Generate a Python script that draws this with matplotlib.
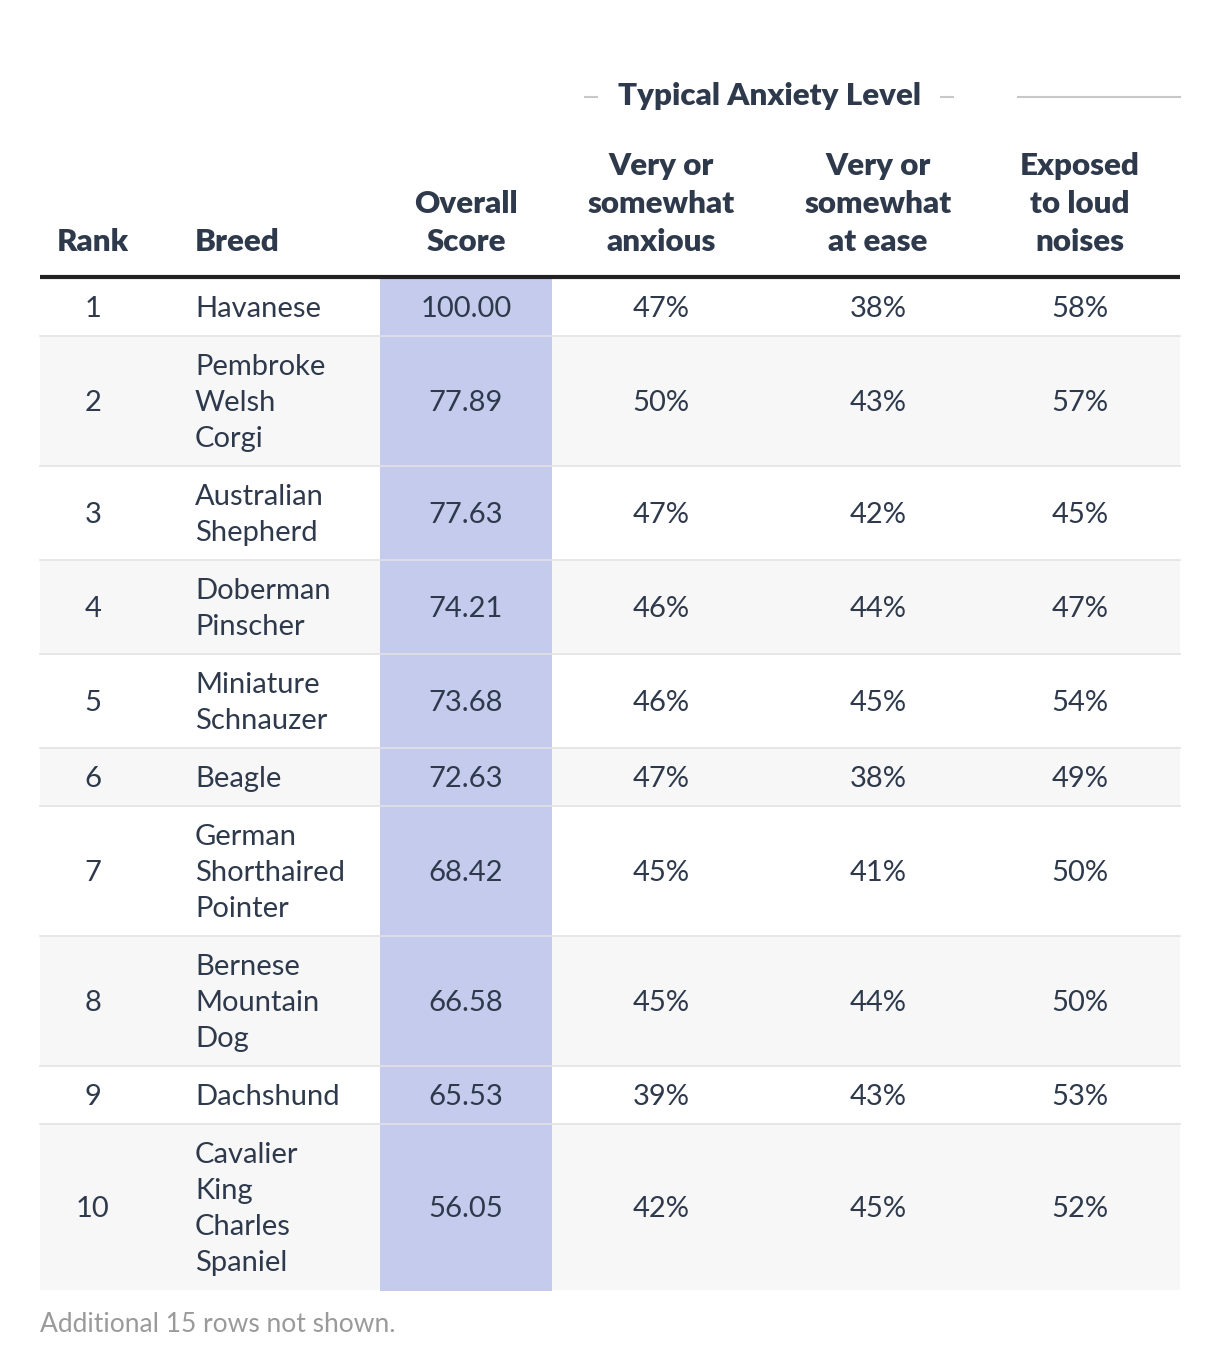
import matplotlib.pyplot as plt
from matplotlib.patches import Rectangle

# Data
ranks = [1, 2, 3, 4, 5, 6, 7, 8, 9, 10]
breeds = ["Havanese", "Pembroke\nWelsh\nCorgi", "Australian\nShepherd",
          "Doberman\nPinscher", "Miniature\nSchnauzer", "Beagle",
          "German\nShorthaired\nPointer", "Bernese\nMountain\nDog",
          "Dachshund", "Cavalier\nKing\nCharles\nSpaniel"]
scores = [100.00, 77.89, 77.63, 74.21, 73.68, 72.63, 68.42, 66.58, 65.53, 56.05]
anxious = [47, 50, 47, 46, 46, 47, 45, 45, 39, 42]
at_ease = [38, 43, 42, 44, 45, 38, 41, 44, 43, 45]
loud = [58, 57, 45, 47, 54, 49, 50, 50, 53, 52]

headers = ["Rank", "Breed", "Overall\nScore", "Very or\nsomewhat\nanxious",
           "Very or\nsomewhat\nat ease", "Exposed\nto loud\nnoises"]
group_title = "Typical Anxiety Level"
footnote = "Additional 15 rows not shown."

# Style
W, H = 1220, 1372
FONT = "Lato"
TEXT = "#2e3a4c"
HILITE = "#c5cbec"
STRIPE = "#f7f7f7"
SEP = "#e3e3e3"
LINE_H = 36
BODY = 21
HEAD = 22.5

fig = plt.figure(figsize=(W / 100, H / 100), dpi=100)
ax = fig.add_axes([0, 0, 1, 1])
ax.set_xlim(0, W)
ax.set_ylim(H, 0)
ax.axis("off")

left, right = 40, 1180
col_x = [93, 195, 466, 661, 878, 1080]
col_ha = ["center", "left", "center", "center", "center", "center"]
hl_x0, hl_x1 = 380, 552

# group header
ax.text(769, 96, group_title, fontsize=HEAD, fontweight="heavy", family=FONT,
        color=TEXT, ha="center", va="center")
ax.plot([585, 597], [97, 97], color="#c8c8c8", lw=1.5)
ax.plot([941, 953], [97, 97], color="#c8c8c8", lw=1.5)
ax.plot([1018, 1180], [97, 97], color="#c8c8c8", lw=1.5)

# column headers (bottom aligned)
for x, ha, h in zip(col_x, col_ha, headers):
    lines = h.split("\n")
    for i, ln in enumerate(reversed(lines)):
        ax.text(x, 242 - i * 38, ln, fontsize=HEAD, fontweight="heavy", family=FONT,
                color=TEXT, ha=ha, va="center")

ax.plot([left, right], [277, 277], color="#222222", lw=3, solid_capstyle="butt")

# rows
y = 278
for r in range(len(ranks)):
    n = breeds[r].count("\n") + 1
    h = 22 + LINE_H * n
    if r % 2 == 1:
        ax.add_patch(Rectangle((left, y), right - left, h, color=STRIPE, lw=0, zorder=0))
    ax.add_patch(Rectangle((hl_x0, y), hl_x1 - hl_x0, h + 1, color=HILITE, lw=0, zorder=1))
    if r < len(ranks) - 1:
        ax.plot([left, right], [y + h, y + h], color=SEP, lw=1.2, zorder=2)
    cy = y + h / 2 + 2
    vals = [str(ranks[r]), None, f"{scores[r]:.2f}", f"{anxious[r]}%",
            f"{at_ease[r]}%", f"{loud[r]}%"]
    for x, ha, v in zip(col_x, col_ha, vals):
        if v is None:
            lines = breeds[r].split("\n")
            y0 = cy - (n - 1) * LINE_H / 2
            for i, ln in enumerate(lines):
                ax.text(x, y0 + i * LINE_H, ln, fontsize=BODY, family=FONT,
                        color=TEXT, ha=ha, va="center", zorder=3)
        else:
            ax.text(x, cy, v, fontsize=BODY, family=FONT, color=TEXT,
                    ha=ha, va="center", zorder=3)
    y += h

ax.text(left, 1324, footnote, fontsize=19, family=FONT, color="#9a9a9a",
        ha="left", va="center")

fig.savefig("out.png", dpi=100)
